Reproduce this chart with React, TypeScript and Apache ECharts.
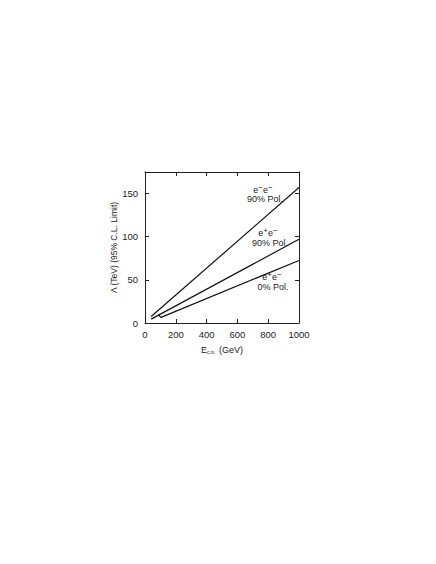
import React, { useEffect, useRef } from "react";
import * as echarts from "echarts";

const eeX = [40, 1000];
const eeY = [7.5, 157];
const ep90X = [40, 1000];
const ep90Y = [4.5, 97];
const ep0X = [86, 104, 1000];
const ep0Y = [9.5, 6.5, 72.5];
const xTicks = [0, 200, 400, 600, 800, 1000];
const yTicks = [0, 50, 100, 150];

const labels = [
  { text: "e{s|−}e{s|−}", x: 263, y: 190 },
  { text: "90% Pol.", x: 265, y: 199 },
  { text: "e{s|+}e{s|−}", x: 268, y: 233 },
  { text: "90% Pol.", x: 270, y: 243 },
  { text: "e{s|+}e{s|−}", x: 272, y: 277 },
  { text: "0% Pol.", x: 273, y: 287 },
];

const font = "Liberation Sans, Arial, Helvetica, sans-serif";

function pairs(xs: number[], ys: number[]) {
  return xs.map((x, i) => [x, ys[i]]);
}

export default function App() {
  const ref = useRef<HTMLDivElement>(null);
  useEffect(() => {
    const chart = echarts.init(ref.current!, null, { renderer: "svg" });
    const axisLine = { show: true, onZero: false, lineStyle: { color: "#222", width: 1 } };
    const axisTick = { show: true, inside: true, length: 4, lineStyle: { color: "#222", width: 1 } };
    const lineStyle = { color: "#111", width: 1.2 };
    chart.setOption({
      animation: false,
      backgroundColor: "#fff",
      grid: { left: 145, top: 172, width: 154, height: 151 },
      xAxis: [
        {
          type: "value",
          min: 0,
          max: 1000,
          interval: 200,
          position: "bottom",
          axisLine,
          axisTick,
          splitLine: { show: false },
          axisLabel: {
            color: "#222",
            fontSize: 9.5,
            fontFamily: font,
            margin: 6,
            formatter: (v: number) => (xTicks.includes(v) ? String(v) : ""),
          },
          name: "{m|E}{s|c.m.}{m| (GeV)}",
          nameLocation: "middle",
          nameGap: 21,
          nameTextStyle: {
            rich: {
              m: { fontSize: 9, fontFamily: font, color: "#222" },
              s: { fontSize: 4.5, fontFamily: font, color: "#222", padding: [6, 1, 0, 0] },
            },
          },
        },
        {
          type: "value",
          min: 0,
          max: 1000,
          interval: 200,
          position: "top",
          axisLine,
          axisTick,
          splitLine: { show: false },
          axisLabel: { show: false },
        },
      ],
      yAxis: [
        {
          type: "value",
          min: 0,
          max: 175,
          interval: 50,
          position: "left",
          axisLine,
          axisTick,
          splitLine: { show: false },
          axisLabel: {
            color: "#222",
            fontSize: 9.5,
            fontFamily: font,
            margin: 7,
            formatter: (v: number) => (yTicks.includes(v) ? String(v) : ""),
          },
          name: "Λ (TeV) (95% C.L. Limit)",
          nameLocation: "middle",
          nameGap: 27,
          nameTextStyle: { fontSize: 8.5, fontFamily: font, color: "#222" },
        },
        {
          type: "value",
          min: 0,
          max: 175,
          interval: 50,
          position: "right",
          axisLine,
          axisTick,
          splitLine: { show: false },
          axisLabel: { show: false },
        },
      ],
      series: [
        { type: "line", data: pairs(eeX, eeY), symbol: "none", lineStyle, xAxisIndex: 0, yAxisIndex: 0 },
        { type: "line", data: pairs(ep90X, ep90Y), symbol: "none", lineStyle, xAxisIndex: 0, yAxisIndex: 0 },
        { type: "line", data: pairs(ep0X, ep0Y), symbol: "none", lineStyle, xAxisIndex: 0, yAxisIndex: 0 },
      ],
      graphic: labels.map((l) => ({
        type: "text",
        x: l.x,
        y: l.y,
        style: {
          text: l.text,
          fontSize: 9,
          fontFamily: font,
          fill: "#222",
          align: "center",
          verticalAlign: "middle",
          rich: {
            s: { fontSize: 8, fontFamily: font, fill: "#222", padding: [0, 0, 5, 0] },
          },
        },
      })),
    });
    return () => chart.dispose();
  }, []);
  return (
    <div
      ref={ref}
      style={{ position: "absolute", left: 0, top: 0, width: 436, height: 564 }}
    />
  );
}
